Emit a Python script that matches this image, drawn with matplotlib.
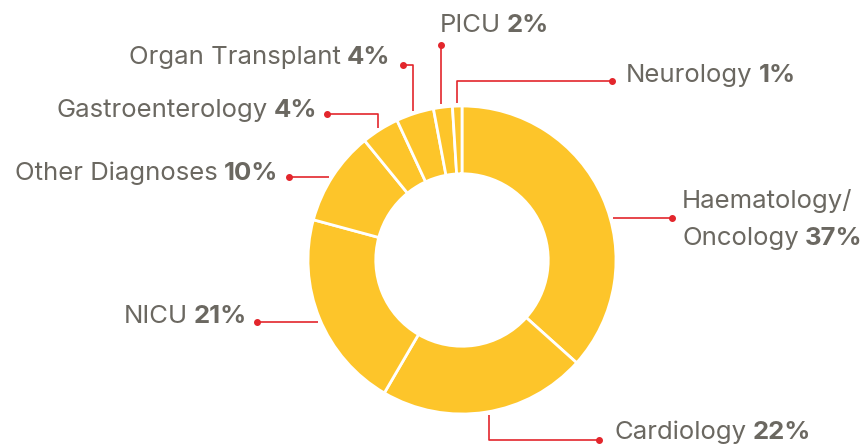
import numpy as np
import matplotlib.pyplot as plt

# shares by diagnosis group, clockwise from 12 o'clock
names = ['Haematology/\nOncology', 'Cardiology', 'NICU', 'Other Diagnoses',
         'Gastroenterology', 'Organ Transplant', 'PICU', 'Neurology']
shares = [37, 22, 21, 10, 4, 4, 2, 1]
pct_labels = [f'{v}%' for v in shares]

YELLOW = '#FDC52A'
GREY = '#6B6861'
RED = '#E3262C'
FS = 18.5
W, H = 866, 445

plt.rcParams['font.family'] = ['Inter', 'DejaVu Sans']

fig = plt.figure(figsize=(W / 100, H / 100), dpi=100)
ax = fig.add_axes([0, 0, 1, 1])

# work in pixel units, y measured from the top
cx, cy, R = 462, 260, 154
ax.pie(shares, radius=R, center=(cx, H - cy), startangle=90, counterclock=False,
       colors=[YELLOW] * len(shares),
       wedgeprops=dict(width=R * 0.44, edgecolor='white', linewidth=2))
ax.set_xlim(0, W)
ax.set_ylim(0, H)
ax.set_aspect('auto')
ax.axis('off')

# leader layout: ('h', y, dot_x) or ('v', x, corner_y, dot_x)
leaders = [('h', 218, 672), ('v', 489, 440, 599), ('h', 322, 257), ('h', 177, 289),
           ('v', 378, 114, 327), ('v', 413, 65, 403), ('v', 441, 45, 441),
           ('v', 457, 81, 612)]
# label anchor: (x, baseline y, alignment)
anchors = [(682, 245, 'left'), (615, 439, 'left'), (247, 323, 'right'),
           (278, 180, 'right'), (317, 117, 'right'), (390, 64, 'right'),
           (440, 32, 'left'), (626, 82, 'left')]

gap = 3
for spec in leaders:
    if spec[0] == 'h':
        _, y, dx = spec
        half = np.sqrt(R ** 2 - (y - cy) ** 2) + gap
        x0 = cx + half if dx > cx else cx - half
        xs, ys = [x0, dx], [y, y]
    else:
        _, x, yc, dx = spec
        half = np.sqrt(R ** 2 - (x - cx) ** 2) + gap
        y0 = cy - half if yc < cy else cy + half
        xs, ys = [x, x, dx], [y0, yc, yc]
    ax.plot(xs, [H - v for v in ys], color=RED, lw=1.2, solid_capstyle='butt')
    ax.plot(xs[-1], H - ys[-1], 'o', color=RED, ms=4)

renderer = fig.canvas.get_renderer()


def put_label(x, y, name, pct, ha):
    kw = dict(fontsize=FS, color=GREY, va='baseline', ha='left')
    a = ax.text(0, 0, name, **kw)
    b = ax.text(0, 0, pct, fontweight='bold', **kw)
    wa = a.get_window_extent(renderer).width
    wb = b.get_window_extent(renderer).width
    sp = 6
    x0 = x if ha == 'left' else x - (wa + sp + wb)
    a.set_position((x0, H - y))
    b.set_position((x0 + wa + sp, H - y))


for name, pct, (x, y, ha) in zip(names, pct_labels, anchors):
    lines = name.split('\n')
    if len(lines) > 1:
        ax.text(x, H - (y - 37), lines[0], fontsize=FS, color=GREY,
                va='baseline', ha='left')
    put_label(x, y, lines[-1], pct, ha)

fig.savefig('out.png', dpi=100)
